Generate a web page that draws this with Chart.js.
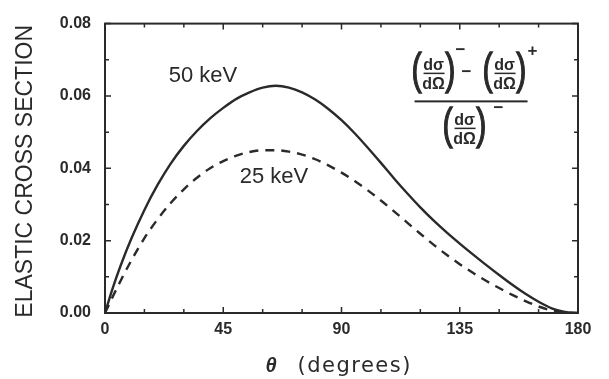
<!DOCTYPE html>
<html>
<head>
<meta charset="utf-8">
<script src="https://cdn.jsdelivr.net/npm/chart.js@4.4.1/dist/chart.umd.min.js"></script>
<style>
  html, body { margin: 0; padding: 0; background: #ffffff; }
  #wrap { width: 609px; height: 379px; }
</style>
</head>
<body>
<div id="wrap"><canvas id="chart" width="609" height="379"></canvas></div>
<script>
// Scattering angle grid (degrees)
const angles = [0, 3, 6, 10, 15, 20, 25, 30, 35, 40, 45, 50, 55, 60, 65, 70, 75, 80, 85, 90,
                95, 100, 105, 110, 115, 120, 125, 130, 135, 140, 145, 150, 155, 160, 165, 170, 175, 180];

// Elastic cross-section asymmetry at 50 keV
const asym50keV = [0, 0.0070, 0.0132, 0.0205, 0.0285, 0.0354, 0.0413, 0.0462, 0.0503, 0.0538,
                   0.0567, 0.0592, 0.0610, 0.0623, 0.0628, 0.0623, 0.0610, 0.0590, 0.0564, 0.0533,
                   0.0497, 0.0457, 0.0415, 0.0372, 0.0331, 0.0292, 0.0256, 0.0223, 0.0192, 0.0162,
                   0.0133, 0.0105, 0.0078, 0.0053, 0.0031, 0.0013, 0.0003, 0];

// Elastic cross-section asymmetry at 25 keV
const asym25keV = [0, 0.0046, 0.0090, 0.0145, 0.0207, 0.0259, 0.0304, 0.0342, 0.0374, 0.0400,
                   0.0420, 0.0435, 0.0445, 0.0450, 0.0450, 0.0446, 0.0438, 0.0425, 0.0408, 0.0388,
                   0.0365, 0.0339, 0.0311, 0.0281, 0.0250, 0.0219, 0.0189, 0.0161, 0.0135, 0.0111,
                   0.0089, 0.0069, 0.0050, 0.0033, 0.0018, 0.0007, 0.0001, 0];

// Axis ticks
const xTickValues = [0, 45, 90, 135, 180];
const xTickLabels = ['0', '45', '90', '135', '180'];
const yTickValues = [0, 0.02, 0.04, 0.06, 0.08];
const yTickLabels = ['0.00', '0.02', '0.04', '0.06', '0.08'];
const xMinorStep = 15;
const yMinorStep = 0.01;

const INK = '#2a2a2a';
const SANS = '"Liberation Sans", Arial, sans-serif';
const WIDE = '"DejaVu Sans", sans-serif';

function points(ys) { return angles.map((a, i) => ({ x: a, y: ys[i] })); }

// One (dσ/dΩ) group: tall parentheses around a small fraction
function derivTerm(ctx, x, cy) {
  ctx.save();
  ctx.font = '29px ' + SANS;
  ctx.textAlign = 'left';
  ctx.textBaseline = 'alphabetic';
  ctx.translate(x, cy);
  ctx.scale(1.05, 1.55);
  ctx.lineWidth = 0.9;
  ctx.strokeStyle = INK;
  ctx.fillText('(', 0, 0.26 * 29);
  ctx.strokeText('(', 0, 0.26 * 29);
  ctx.fillText(')', 32, 0.26 * 29);
  ctx.strokeText(')', 32, 0.26 * 29);
  ctx.restore();
  const b = cy + 1.5;
  ctx.save();
  ctx.font = 'bold 16px ' + SANS;
  ctx.textAlign = 'center';
  ctx.textBaseline = 'alphabetic';
  ctx.fillText('dσ', x + 22, b - 3);
  ctx.fillRect(x + 12, b - 0.75, 21, 1.5);
  ctx.fillText('dΩ', x + 22, b + 15.5);
  ctx.restore();
}

function sup(ctx, s, x, y) {
  ctx.save();
  ctx.font = 'bold 17px ' + SANS;
  ctx.textAlign = 'center';
  ctx.textBaseline = 'middle';
  ctx.fillText(s, x, y);
  ctx.restore();
}

const framePlugin = {
  id: 'frameAndText',
  afterDraw(chart) {
    const { ctx, chartArea: a } = chart;
    const xs = chart.scales.x, ys = chart.scales.y;
    ctx.save();
    ctx.strokeStyle = INK;
    ctx.fillStyle = INK;

    // frame
    ctx.lineWidth = 2;
    ctx.strokeRect(a.left, a.top, a.right - a.left, a.bottom - a.top);

    // inward ticks on all four sides
    ctx.lineWidth = 1.5;
    ctx.beginPath();
    for (let v = xs.min; v <= xs.max + 1e-9; v += xMinorStep) {
      const px = xs.getPixelForValue(v);
      const len = xTickValues.includes(Math.round(v)) ? 6 : 4;
      ctx.moveTo(px, a.bottom); ctx.lineTo(px, a.bottom - len);
      ctx.moveTo(px, a.top); ctx.lineTo(px, a.top + len);
    }
    for (let k = 0; k <= Math.round((ys.max - ys.min) / yMinorStep); k++) {
      const v = ys.min + k * yMinorStep;
      const py = ys.getPixelForValue(v);
      const len = k % 2 === 0 ? 6 : 4;
      ctx.moveTo(a.left, py); ctx.lineTo(a.left + len, py);
      ctx.moveTo(a.right, py); ctx.lineTo(a.right - len, py);
    }
    ctx.stroke();

    // axis titles
    const midX = (a.left + a.right) / 2;
    ctx.textBaseline = 'alphabetic';
    ctx.textAlign = 'left';
    ctx.font = 'italic bold 20px ' + SANS;
    ctx.fillText('θ', midX - 76, 372);
    ctx.font = '21px ' + WIDE;
    ctx.letterSpacing = '1.5px';
    ctx.fillText('(degrees)', midX - 44, 372);
    ctx.letterSpacing = '0px';

    ctx.save();
    ctx.translate(32, (a.top + a.bottom) / 2 + 3);
    ctx.rotate(-Math.PI / 2);
    ctx.textAlign = 'center';
    ctx.font = '23px ' + SANS;
    ctx.fillText('ELASTIC CROSS SECTION', 0, 0);
    ctx.restore();

    // curve labels
    ctx.font = '22px ' + SANS;
    ctx.textAlign = 'center';
    ctx.fillText('50 keV', xs.getPixelForValue(37.3), ys.getPixelForValue(0.0638));
    ctx.fillText('25 keV', xs.getPixelForValue(64.3), ys.getPixelForValue(0.0360));

    // asymmetry formula
    const X0 = xs.getPixelForValue(139.3);
    const B = ys.getPixelForValue(0.0585);
    derivTerm(ctx, X0 - 59.5, B - 29.5);
    sup(ctx, '−', X0 - 10.5, B - 51);
    sup(ctx, '−', X0 - 4.5, B - 29);
    derivTerm(ctx, X0 + 11.5, B - 29.5);
    sup(ctx, '+', X0 + 61.5, B - 50);
    ctx.fillRect(X0 - 56.5, B - 1, 113, 2);
    derivTerm(ctx, X0 - 28.5, B + 25.5);
    sup(ctx, '−', X0 + 27.5, B + 7);

    ctx.restore();
  }
};

new Chart(document.getElementById('chart'), {
  type: 'line',
  data: {
    datasets: [
      {
        label: '50 keV',
        data: points(asym50keV),
        borderColor: INK,
        borderWidth: 2.4,
        pointRadius: 0,
        cubicInterpolationMode: 'monotone',
        fill: false
      },
      {
        label: '25 keV',
        data: points(asym25keV),
        borderColor: INK,
        borderWidth: 2.4,
        borderDash: [9, 7],
        pointRadius: 0,
        cubicInterpolationMode: 'monotone',
        fill: false
      }
    ]
  },
  options: {
    responsive: false,
    animation: false,
    devicePixelRatio: 1,
    layout: { padding: { left: 0, top: 16, right: 31, bottom: 0 } },
    plugins: { legend: { display: false }, tooltip: { enabled: false } },
    scales: {
      x: {
        type: 'linear',
        min: 0,
        max: 180,
        grid: { display: false, drawTicks: false },
        border: { display: false },
        afterBuildTicks: s => { s.ticks = xTickValues.map(v => ({ value: v })); },
        afterFit: s => { s.height = 66; },
        ticks: {
          padding: 7,
          color: INK,
          font: { family: SANS, size: 16, weight: 'bold' },
          maxRotation: 0,
          callback: v => xTickLabels[xTickValues.indexOf(v)]
        }
      },
      y: {
        type: 'linear',
        min: 0,
        max: 0.08,
        grid: { display: false, drawTicks: false },
        border: { display: false },
        afterBuildTicks: s => { s.ticks = yTickValues.map(v => ({ value: v })); },
        afterFit: s => { s.width = 105; },
        ticks: {
          padding: 14,
          color: INK,
          font: { family: SANS, size: 16, weight: 'bold' },
          callback: v => yTickLabels[yTickValues.findIndex(t => Math.abs(t - v) < 1e-9)]
        }
      }
    }
  },
  plugins: [framePlugin]
});
</script>
</body>
</html>
